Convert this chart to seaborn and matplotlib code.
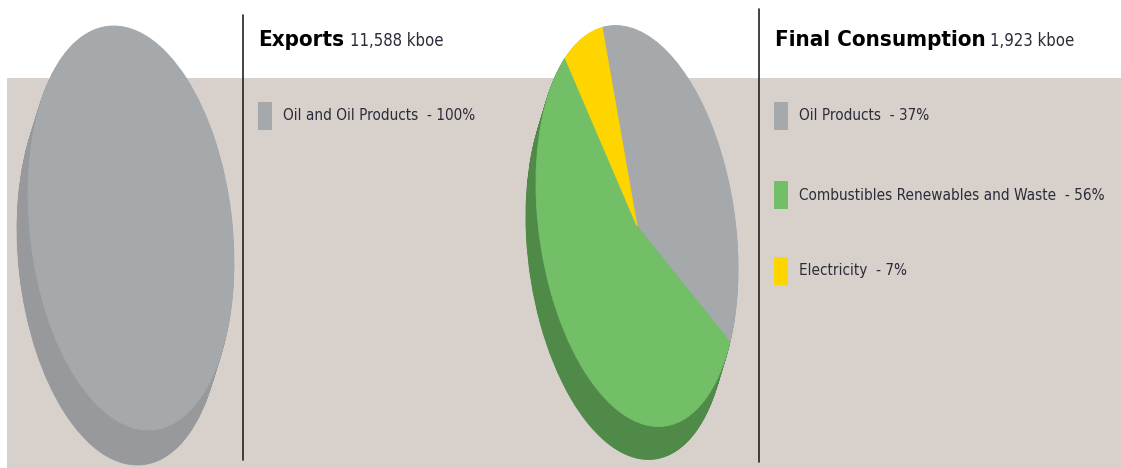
import numpy as np
import matplotlib
matplotlib.use("Agg")
import matplotlib.pyplot as plt
import seaborn as sns
from matplotlib.transforms import Affine2D
from matplotlib.patches import Rectangle

# ---- data ----
export_labels = ["Oil and Oil Products"]
export_shares = [100]
export_total = "11,588 kboe"

cons_labels = ["Oil Products", "Combustibles Renewables and Waste", "Electricity"]
cons_shares = [37, 56, 7]
cons_total = "1,923 kboe"

export_face = ["#a6a9ac"]
export_side = ["#97999c"]
cons_face = ["#a6a9ac", "#72bf67", "#ffd500"]
cons_side = ["#97999c", "#4f8a48", "#c9a800"]

sns.set_theme(style="white")
plt.rcParams["font.family"] = ["DejaVu Sans"]
plt.rcParams["font.stretch"] = "condensed"

W, H = 1121, 468
fig = plt.figure(figsize=(W / 100, H / 100), dpi=100)
fig.patch.set_facecolor("white")
ax = fig.add_axes([0, 0, 1, 1])

# beige panel
ax.add_patch(Rectangle((7, 0), W - 7, H - 78, color="#d8d0cb", lw=0, zorder=0))


def draw_pie(values, face, side, cx, cy_img, a, b, tilt, start, depth, steps=45):
    cy = H - cy_img
    for k in range(steps, -1, -1):
        f = k / steps
        dx, dy = depth[0] * f, depth[1] * f
        cols = side if k > 0 else face
        wedges, _ = ax.pie(values, colors=cols, startangle=start, counterclock=False,
                           radius=1, center=(0, 0), frame=True,
                           wedgeprops=dict(linewidth=0.6))
        tr = Affine2D().scale(b, a).rotate_deg(tilt).translate(cx + dx, cy + dy) + ax.transData
        for w in wedges:
            w.set_transform(tr)
            w.set_edgecolor(w.get_facecolor())
            w.set_zorder(2 if k > 0 else 3)


draw_pie(export_shares, export_face, export_side, 131, 228, 203, 101, 6.5, 90, (-11, -35))
draw_pie(cons_shares, cons_face, cons_side, 637, 226, 202, 98, 8, 94, (-10, -33))

# dividers
ax.plot([243, 243], [H - 15, H - 460], color="#222222", lw=1.2, zorder=4)
ax.plot([759, 759], [H - 9, H - 462], color="#222222", lw=1.2, zorder=4)

txt_col = "#2b2b3a"
# titles
ax.text(258, H - 46, "Exports", fontsize=16, fontweight="bold", color="black", va="baseline", zorder=5)
ax.text(350, H - 46, export_total, fontsize=12, color=txt_col, va="baseline", zorder=5)
ax.text(775, H - 46, "Final Consumption", fontsize=16, fontweight="bold", color="black", va="baseline", zorder=5)
ax.text(990, H - 46, cons_total, fontsize=12, color=txt_col, va="baseline", zorder=5)

# legends
def legend_row(x, yc, color, label, share):
    ax.add_patch(Rectangle((x, H - yc - 14), 14, 28, color=color, lw=0, zorder=5))
    ax.text(x + 25, H - yc, f"{label}  - {share}%", fontsize=11, color=txt_col, va="center", zorder=5)

for lab, s, c, yc in zip(export_labels, export_shares, export_face, [116]):
    legend_row(258, yc, c, lab, s)
for lab, s, c, yc in zip(cons_labels, cons_shares, cons_face, [116, 195, 271]):
    legend_row(774, yc, c, lab, s)

ax.set_xlim(0, W)
ax.set_ylim(0, H)
ax.set_aspect("auto")
ax.axis("off")

fig.savefig("out.png", dpi=100, facecolor="white")
